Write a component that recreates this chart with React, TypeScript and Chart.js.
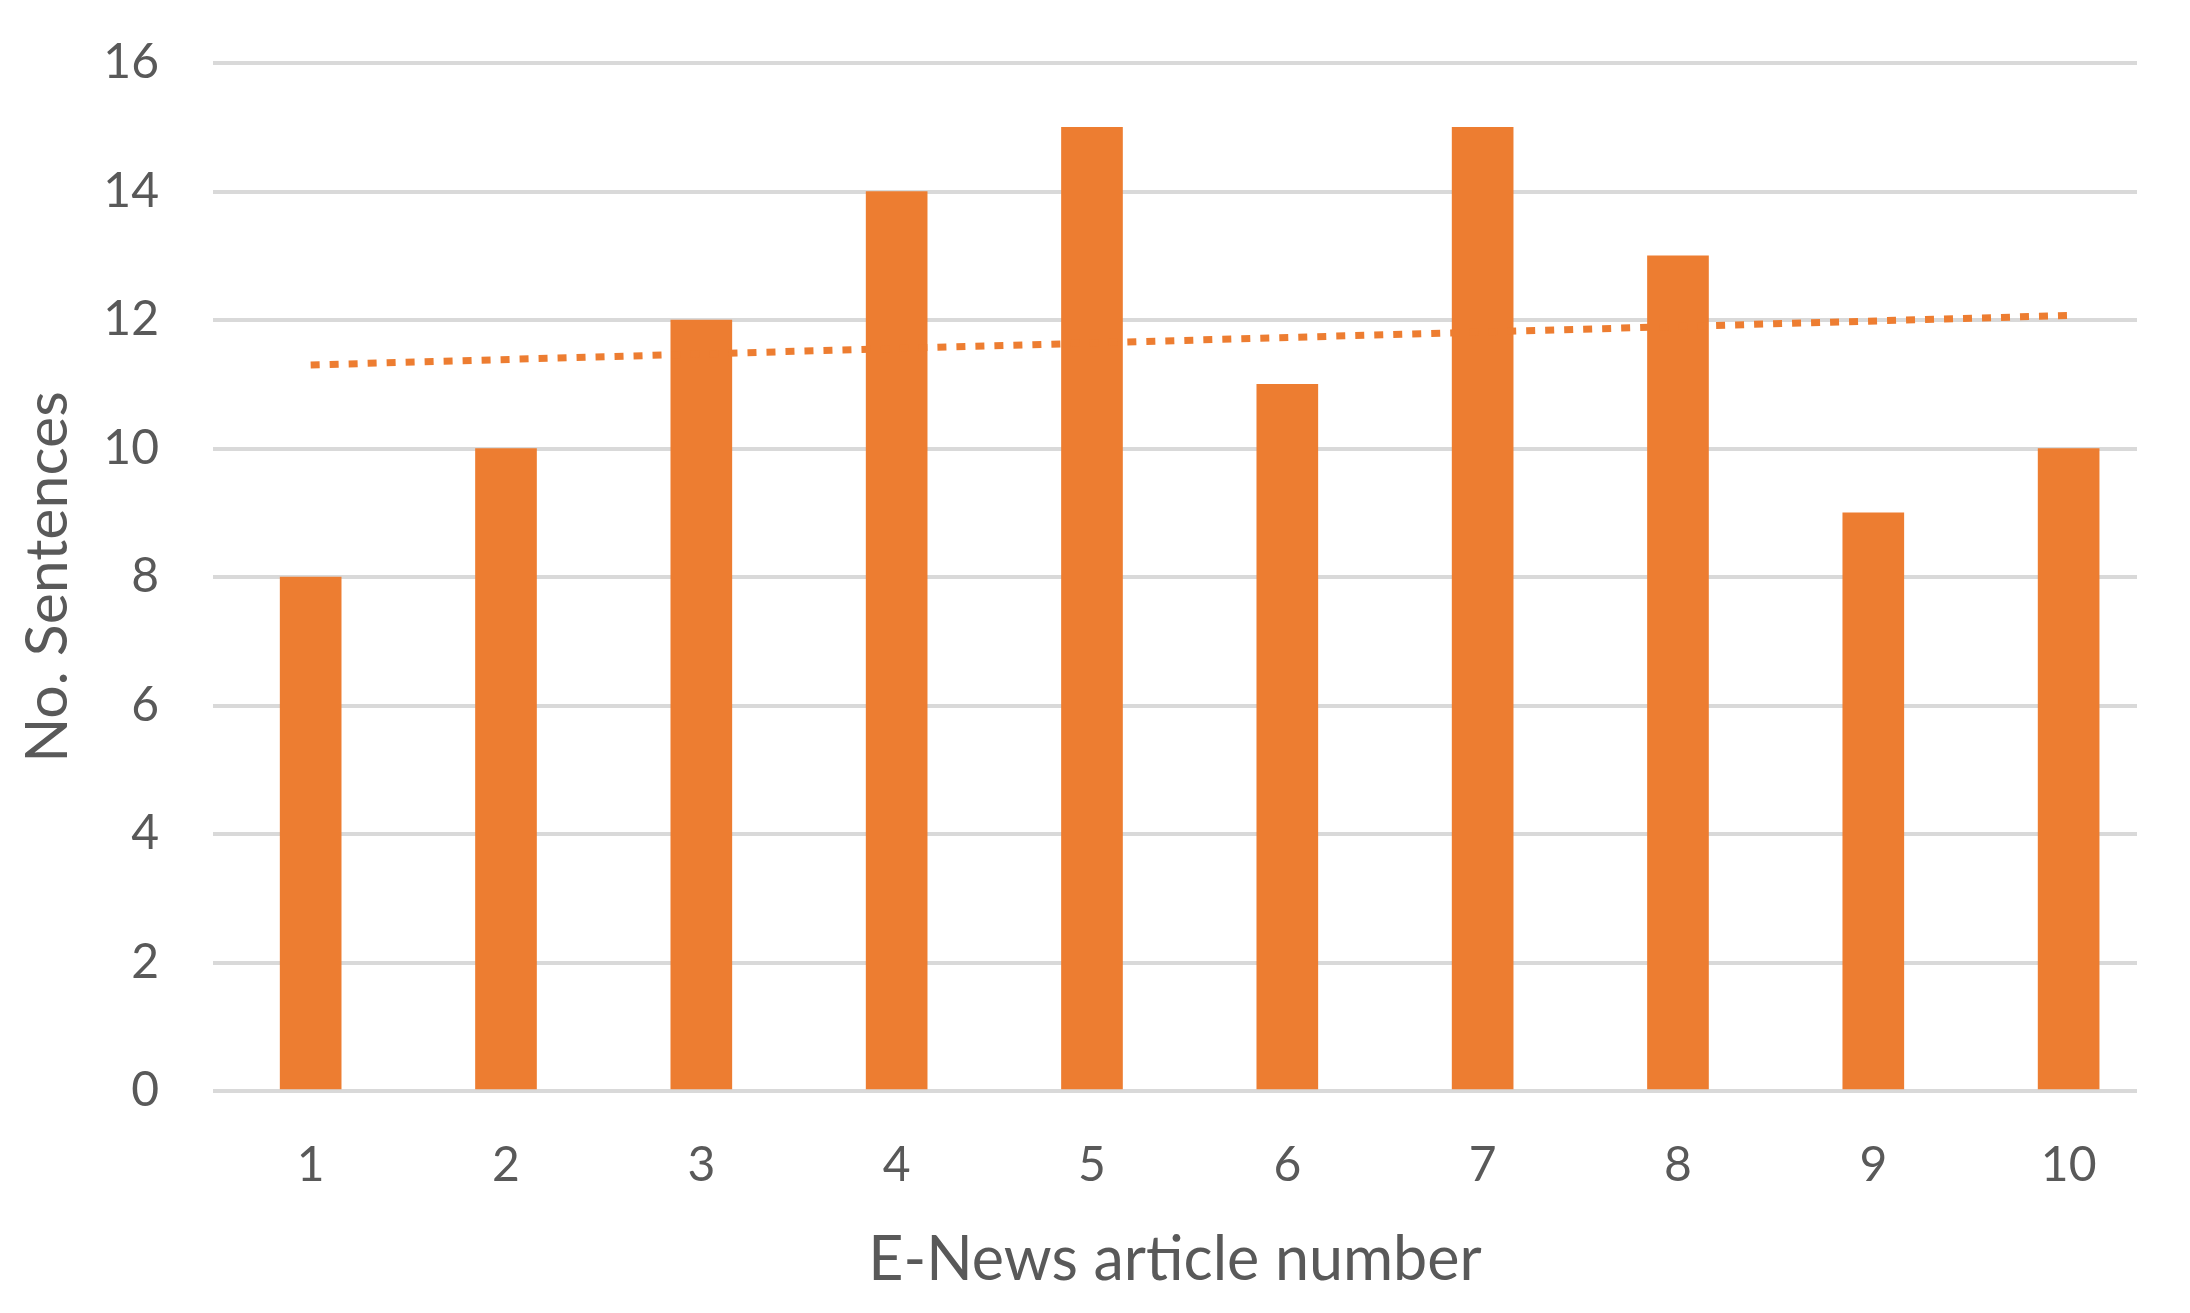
import React, { useEffect, useRef } from "react";
import { Chart, registerables } from "chart.js";

Chart.register(...registerables);

const articleNumbers = [1, 2, 3, 4, 5, 6, 7, 8, 9, 10];
const sentenceCounts = [8, 10, 12, 14, 15, 11, 15, 13, 9, 10];
const trendX = [1, 10];
const trendY = [11.3, 12.07];
const yTicks = [0, 2, 4, 6, 8, 10, 12, 14, 16];

const ORANGE = "#ED7D31";
const TEXT = "#595959";
const GRID = "#D9D9D9";
const FONT = "Lato, 'Open Sans', sans-serif";

export default function App() {
  const ref = useRef<HTMLCanvasElement | null>(null);

  useEffect(() => {
    if (!ref.current) return;
    const chart = new Chart(ref.current, {
      type: "bar",
      data: {
        datasets: [
          {
            type: "bar",
            label: "No. Sentences",
            data: articleNumbers.map((x, i) => ({ x, y: sentenceCounts[i] })),
            backgroundColor: ORANGE,
            borderWidth: 0,
            barThickness: 61,
            order: 2,
          },
          {
            type: "line",
            label: "Linear trend",
            data: trendX.map((x, i) => ({ x, y: trendY[i] })),
            borderColor: ORANGE,
            backgroundColor: ORANGE,
            borderWidth: 7,
            borderDash: [9, 10],
            pointRadius: 0,
            fill: false,
            order: 1,
          } as any,
        ],
      },
      options: {
        responsive: false,
        animation: false,
        devicePixelRatio: 1,
        layout: { padding: { top: 63, right: 53, bottom: 0, left: 0 } },
        plugins: {
          legend: { display: false },
          tooltip: { enabled: false },
        },
        scales: {
          x: {
            type: "linear",
            min: 0.5,
            max: 10.35,
            offset: false,
            grid: { display: false, drawTicks: false, offset: false },
            border: { display: false },
            afterBuildTicks: (scale: any) => {
              scale.ticks = articleNumbers.map((v) => ({ value: v }));
            },
            afterFit: (scale: any) => {
              scale.height = 222;
              scale.paddingLeft = 0;
              scale.paddingRight = 0;
            },
            ticks: {
              color: TEXT,
              padding: 46,
              font: { family: FONT, size: 48 },
              callback: (v: any) => String(v),
            },
            title: {
              display: true,
              text: "E-News article number",
              color: TEXT,
              font: { family: FONT, size: 61 },
              padding: { top: 0, bottom: 16 },
            },
          },
          y: {
            min: 0,
            max: 16,
            afterBuildTicks: (scale: any) => {
              scale.ticks = yTicks.map((v) => ({ value: v }));
            },
            afterFit: (scale: any) => {
              scale.width = 213;
              scale.paddingTop = 0;
              scale.paddingBottom = 0;
            },
            grid: { color: GRID, lineWidth: 4, drawTicks: false },
            border: { display: false },
            ticks: {
              color: TEXT,
              padding: 54,
              font: { family: FONT, size: 48 },
            },
            title: {
              display: true,
              text: "No. Sentences",
              color: TEXT,
              font: { family: FONT, size: 59 },
              padding: { top: 13, bottom: 0 },
            },
          },
        },
      } as any,
    });
    return () => chart.destroy();
  }, []);

  return (
    <div style={{ position: "absolute", left: 0, top: 0, width: 2190, height: 1313, background: "#fff" }}>
      <canvas ref={ref} width={2190} height={1313} style={{ display: "block" }} />
    </div>
  );
}
